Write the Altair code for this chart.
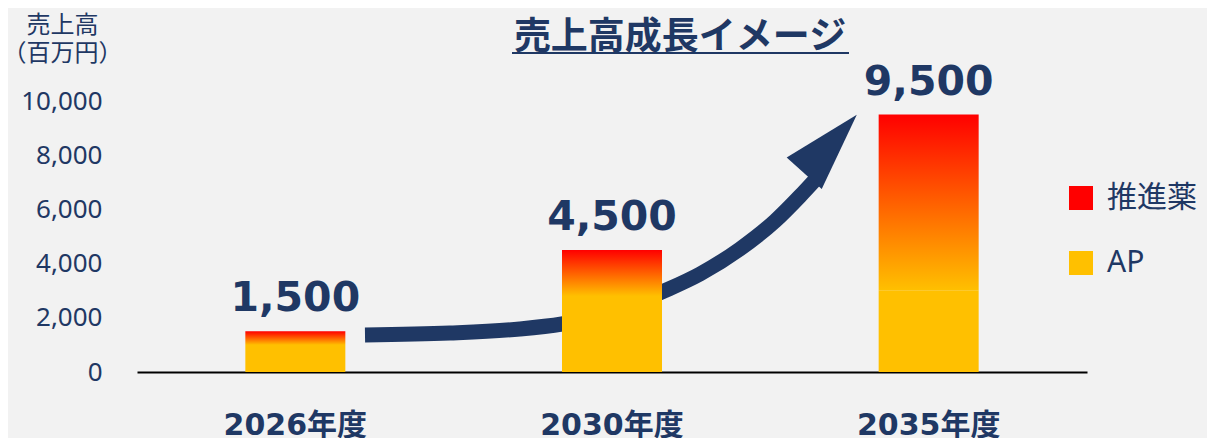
import altair as alt
import pandas as pd

# ---- data ----
years = ["2026年度", "2030年度", "2035年度"]
ap_values = [1000, 2800, 3000]          # AP (yellow part)
propellant_values = [500, 1700, 6500]   # 推進薬 (gradient part)
totals = [1500, 4500, 9500]             # labels above bars
series = ["推進薬", "AP"]
y_ticks = [0, 2000, 4000, 6000, 8000, 10000]

# decorative growth arrow, in data units (x: category position 0..3, y: 百万円)
arrow_x = [0.720, 0.988, 1.209, 1.342, 1.500, 1.658, 1.778, 1.904, 2.015, 2.094, 2.141]
arrow_y = [1365, 1439, 1587, 1771, 2177, 2952, 3616, 4539, 5572, 6494, 7085]
arrow_head_x = [2.190]
arrow_head_y = [8413]

title_text = "売上高成長イメージ"

NAVY = "#1F3864"
YELLOW = "#FFC000"
RED = "#FF0000"
NUM_FONT = "DejaVu Sans, Noto Sans CJK JP"
TICK_FONT = "Noto Sans, Noto Sans CJK JP"
JP_FONT = "Noto Sans CJK JP"

bars = pd.DataFrame({
    "year": years,
    "ap": ap_values,
    "top": [a + p for a, p in zip(ap_values, propellant_values)],
    "total": totals,
    "series": ["AP"] * len(years),
})
arrow_df = pd.DataFrame({"ax": arrow_x, "ay": arrow_y})
head_df = pd.DataFrame({"ax": arrow_head_x, "ay": arrow_head_y})
title_df = pd.DataFrame({"t": [title_text]})

yscale = alt.Scale(domain=[0, 10000], nice=False, zero=True)
yaxis = alt.Axis(
    values=y_ticks, labelExpr="format(datum.value, ',')", grid=False, domain=False,
    ticks=False, tickSize=0,
    labelFont=TICK_FONT, labelFontSize=26, labelColor=NAVY, labelPadding=35,
    title=["売上高", "（百万円）"], titleAngle=0, titleAlign="center",
    titleBaseline="top", titleX=-75, titleY=-88, titleFont=JP_FONT,
    titleFontSize=24, titleFontWeight="normal", titleColor=NAVY, titleLineHeight=28,
)
xenc = alt.X(
    "year:N", sort=years, scale=alt.Scale(paddingInner=0, paddingOuter=0),
    axis=alt.Axis(
        title=None, labelAngle=0, labelFont=NUM_FONT, labelFontSize=30,
        labelFontWeight="bold", labelColor=NAVY, labelPadding=38, ticks=False,
        tickSize=0, domainColor="#000000", domainWidth=2, labelBaseline="top",
    ),
)

base = alt.Chart(bars)

ap_layer = base.mark_bar(size=100).encode(
    x=xenc,
    y=alt.Y("ap:Q", scale=yscale, axis=yaxis),
    color=alt.Color(
        "series:N",
        scale=alt.Scale(domain=series, range=[RED, YELLOW]),
        legend=alt.Legend(
            title=None, orient="none", legendX=929, legendY=82,
            symbolType="square", symbolSize=576, symbolStrokeWidth=0,
            labelFont=TICK_FONT, labelFontSize=30, labelColor=NAVY,
            labelOffset=11, rowPadding=35, padding=0,
        ),
    ),
)

gradient = alt.LinearGradient(
    gradient="linear",
    stops=[alt.GradientStop(color=RED, offset=0), alt.GradientStop(color=YELLOW, offset=1)],
    x1=0, x2=0, y1=0, y2=1,
)
prop_layer = base.mark_bar(size=100, color=gradient).encode(
    x=xenc,
    y=alt.Y("ap:Q", scale=yscale, axis=yaxis),
    y2="top:Q",
)

label_layer = base.mark_text(
    font=NUM_FONT, fontSize=41, fontWeight="bold", color=NAVY,
    baseline="alphabetic", dy=-20,
).encode(
    x=xenc,
    y=alt.Y("total:Q", scale=yscale, axis=yaxis),
    text=alt.Text("total:Q", format=","),
)

title_layer = alt.Chart(title_df).mark_text(
    font=JP_FONT, fontSize=37, fontWeight="bold", color=NAVY, align="center",
    baseline="middle",
).encode(x=alt.value(543), y=alt.value(-63), text="t:N")

underline = alt.Chart(title_df).mark_rule(color=NAVY, strokeWidth=2).encode(
    x=alt.value(375), x2=alt.value(712), y=alt.value(-48)
)

bar_group = alt.layer(ap_layer, prop_layer, label_layer, title_layer, underline)

ax_scale = alt.Scale(domain=[0, 3], nice=False, zero=False)
arrow_line = alt.Chart(arrow_df).mark_line(
    color=NAVY, strokeWidth=15, strokeCap="butt", interpolate="monotone"
).encode(
    x=alt.X("ax:Q", scale=ax_scale, axis=None),
    y=alt.Y("ay:Q", scale=yscale, axis=yaxis),
    order=alt.Order("ax:Q"),
)
arrow_head = alt.Chart(head_df).mark_point(
    shape="M0,-1L0.6,1L-0.6,1Z", size=6180, angle=42, filled=True,
    color=NAVY, opacity=1, strokeWidth=0,
).encode(
    x=alt.X("ax:Q", scale=ax_scale, axis=None),
    y=alt.Y("ay:Q", scale=yscale, axis=yaxis),
)
arrow_group = alt.layer(arrow_line, arrow_head)

chart = alt.layer(arrow_group, bar_group).resolve_scale(x="independent").properties(
    width=950, height=271,
    autosize=alt.AutoSizeParams(type="none"),
    padding={"left": 129, "top": 93, "right": 120, "bottom": 66},
    background="#F2F2F2",
).configure_view(stroke=None)

chart.save("out.html", embed_options={"renderer": "svg", "actions": False})
